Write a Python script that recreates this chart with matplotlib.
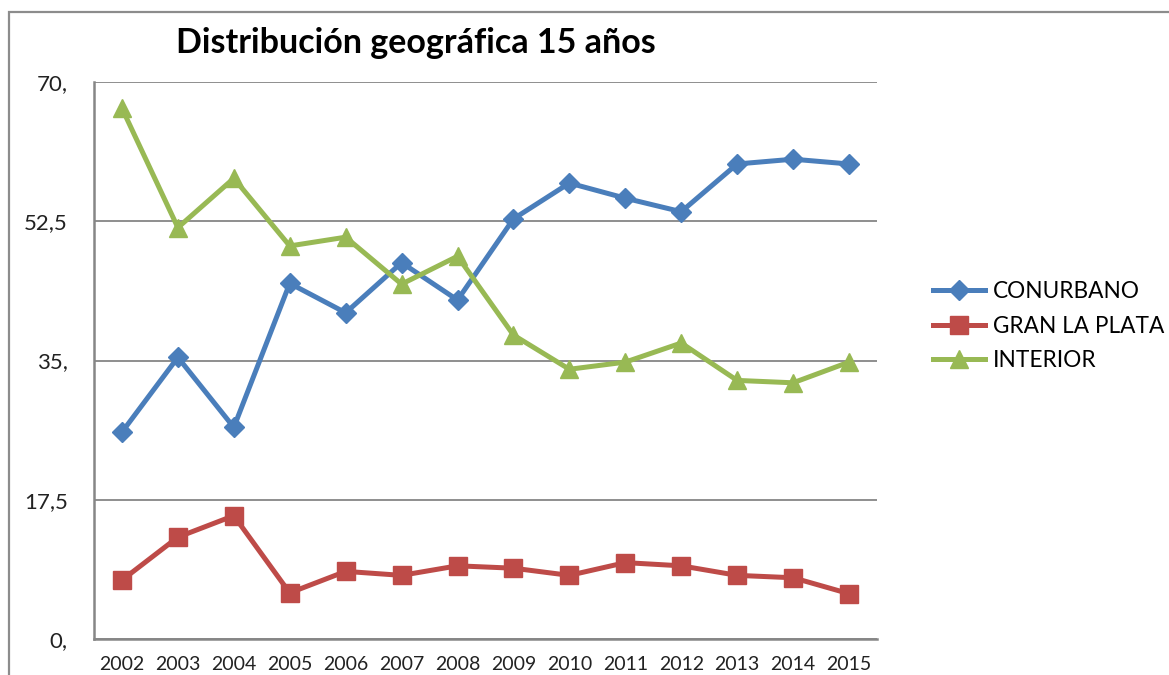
import matplotlib
matplotlib.use("Agg")
import matplotlib.pyplot as plt
from matplotlib.patches import Rectangle

plt.rcParams['font.family'] = ['Lato', 'DejaVu Sans']

# datos
years = ['2002', '2003', '2004', '2005', '2006', '2007', '2008',
         '2009', '2010', '2011', '2012', '2013', '2014', '2015']
conurbano = [26.0, 35.4, 26.6, 44.7, 41.0, 47.3, 42.6,
             52.8, 57.3, 55.4, 53.7, 59.7, 60.3, 59.7]
gran_la_plata = [7.4, 12.8, 15.5, 5.8, 8.5, 8.0, 9.2,
                 8.9, 8.0, 9.6, 9.2, 8.0, 7.7, 5.7]
interior = [66.7, 51.7, 57.9, 49.4, 50.5, 44.6, 48.1,
            38.2, 33.9, 34.8, 37.2, 32.5, 32.2, 34.8]
y_ticks = [0, 17.5, 35, 52.5, 70]
y_labels = ['0,', '17,5', '35,', '52,5', '70,']

fig = plt.figure(figsize=(11.69, 6.75), dpi=100)
ax = fig.add_axes([0.0804, 0.0533, 0.6698, 0.8252])

# marco exterior del grafico
fig.patches.append(Rectangle((9 / 1169, -0.1), 1.2, 1.1 - 12 / 675,
                             transform=fig.transFigure, fill=False,
                             edgecolor='#8c8c8c', linewidth=1.6))

x = range(len(years))
ax.plot(x, conurbano, color='#4a7ebb', lw=3.6, marker='D', ms=10,
        label='CONURBANO', zorder=3)
ax.plot(x, gran_la_plata, color='#be4b48', lw=3.6, marker='s', ms=13,
        label='GRAN LA PLATA', zorder=3)
ax.plot(x, interior, color='#98b954', lw=3.6, marker='^', ms=13,
        label='INTERIOR', zorder=3)

ax.set_xlim(-0.5, len(years) - 0.5)
ax.set_ylim(0, 70)
ax.set_xticks(list(x))
ax.set_xticklabels(years, fontsize=14, color='#222222')
ax.set_yticks(y_ticks)
ax.set_yticklabels(y_labels, fontsize=16, color='#222222')
ax.tick_params(axis='both', length=0)
ax.tick_params(axis='y', pad=19)
ax.tick_params(axis='x', pad=12)

ax.grid(axis='y', color='#868686', lw=1.3)
ax.set_axisbelow(True)
for s in ['top', 'right']:
    ax.spines[s].set_visible(False)
for s in ['left', 'bottom']:
    ax.spines[s].set_color('#868686')
    ax.spines[s].set_linewidth(1.8)

fig.text(0.356, 0.936, 'Distribución geográfica 15 años', fontsize=24.5,
         fontweight='bold', ha='center', va='center', color='black')

fig.legend(loc='center left', bbox_to_anchor=(933 / 1169, 0.517),
           frameon=False, fontsize=16.3, handlelength=2.3,
           handletextpad=0.35, labelspacing=0.58, borderpad=0,
           borderaxespad=0)

fig.savefig('out.png', dpi=100)
